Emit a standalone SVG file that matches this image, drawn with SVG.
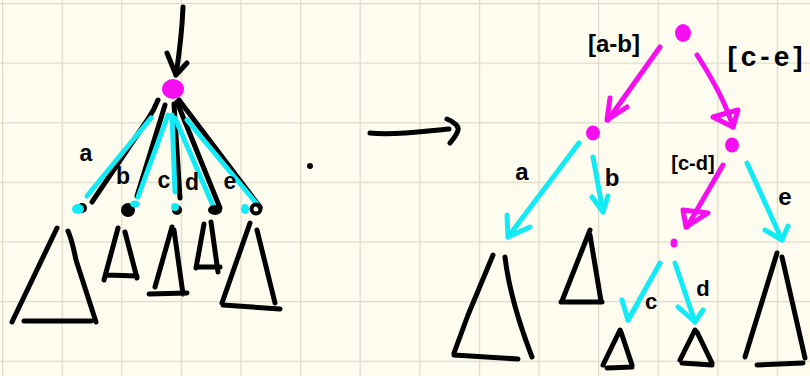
<svg xmlns="http://www.w3.org/2000/svg" width="810" height="376" viewBox="0 0 810 376">
<defs>
<pattern id="grid" x="2" y="3" width="59.6" height="59.6" patternUnits="userSpaceOnUse">
<path d="M0 0 H59.6 M0 0 V59.6" fill="none" stroke="#dddac9" stroke-width="2.5"/>
</pattern>
</defs>
<style>
.k{fill:none;stroke:#000;stroke-width:5;stroke-linecap:round;stroke-linejoin:round}
.c{fill:none;stroke:#12ebf5;stroke-width:5;stroke-linecap:round;stroke-linejoin:round}
.m{fill:none;stroke:#f50ef0;stroke-width:5;stroke-linecap:round;stroke-linejoin:round}
.mf{fill:#f50ef0}
.kf{fill:#000}
.cf{fill:#12ebf5}
.t{font-family:"Liberation Sans",Arial,sans-serif;font-weight:bold;fill:#000}
</style>
<rect width="810" height="376" fill="#fdfcef"/>
<rect width="810" height="376" fill="url(#grid)"/>

<g id="connectors">
<!-- left tree -->
<path class="k" d="M183 7 C182 35 179 55 176 75"/>
<path class="k" d="M167 53 L176 75 L187 63"/>
<path class="k" d="M158 100 Q154 110 148 119 L92 202"/>
<path class="c" d="M151 118 L87 196"/>
<path class="k" d="M165 105 L137 196"/>
<path class="c" d="M168 115 L138 197"/>
<path class="k" d="M174 104 L180 198"/>
<path class="c" d="M172 115 L175 192"/>
<path class="k" d="M177 102 L220 208"/>
<path class="c" d="M175 118 L214 208"/>
<path class="k" d="M179 100 L260 207"/>
<path class="c" d="M187 120 L257 204"/>
<!-- middle arrow -->
<path class="k" d="M370 133 C395 136 425 131 449 129"/>
<path class="k" d="M447 119 C455 122 459 127 458 130 C457 135 453 139 450 143"/>
<!-- right tree -->
<path class="m" d="M660 47 L608 120"/>
<path class="m" d="M610 98 L607 120 L627 107"/>
<path class="m" d="M697 55 C710 75 725 100 733 127"/>
<path class="m" d="M713 117 L738 110 L733 127 Z"/>
<path class="c" d="M579 143 L508 237"/>
<path class="c" d="M507 215 L508 237 L530 227"/>
<path class="c" d="M593 157 L603 212"/>
<path class="c" d="M592 197 L603 212 L608 196"/>
<path class="m" d="M723 165 L687 227"/>
<path class="m" d="M683 210 L708 213 L686 227 Z"/>
<path class="c" d="M747 163 L782 240"/>
<path class="c" d="M765 230 L782 240 L788 226"/>
<path class="c" d="M660 263 L628 320"/>
<path class="c" d="M622 300 L628 320 L637 305"/>
<path class="c" d="M675 263 L695 322"/>
<path class="c" d="M678 307 L695 322 L703 310"/>
</g>

<g id="root-left">
<ellipse class="mf" cx="173" cy="89" rx="11" ry="10"/>
</g>
<g id="child-a">
<circle class="kf" cx="82" cy="208" r="5"/>
<ellipse class="cf" cx="78" cy="209" rx="6" ry="5"/>
<path class="k" d="M57 228 L12 322 M68 231 Q72 240 76 260 L96 322 M24 321 L91 321"/>
<text class="t" x="86" y="161" font-size="23" text-anchor="middle">a</text>
</g>
<g id="child-b">
<circle class="kf" cx="128" cy="210" r="7"/>
<ellipse class="cf" cx="135" cy="204" rx="5" ry="3.5"/>
<path class="k" d="M118 228 L104 280 M125 232 L137 278 M107 275 L137 276"/>
<text class="t" x="123" y="184" font-size="23" text-anchor="middle">b</text>
</g>
<g id="child-c">
<circle class="kf" cx="177" cy="210" r="5"/>
<circle class="cf" cx="175" cy="207" r="4"/>
<path class="k" d="M172 227 L155 287 M174 230 L183 294 M149 294 L187 293"/>
<text class="t" x="164" y="188" font-size="23" text-anchor="middle">c</text>
</g>
<g id="child-d">
<ellipse class="kf" cx="215" cy="210" rx="7" ry="5"/>
<path class="k" d="M204 224 L196 268 M211 222 L218 272 M197 267 L220 267"/>
<text class="t" x="192" y="190" font-size="23" text-anchor="middle">d</text>
</g>
<g id="child-e">
<circle class="k" cx="256" cy="209" r="4.5" style="stroke-width:4"/>
<ellipse class="cf" cx="245" cy="209" rx="4" ry="5"/>
<path class="k" d="M250 223 L222 303 M257 230 L275 303 M223 305 L280 309"/>
<text class="t" x="230" y="189" font-size="23" text-anchor="middle">e</text>
</g>
<circle class="kf" cx="310" cy="166" r="3"/>

<g id="root-right">
<ellipse class="mf" cx="683" cy="33" rx="8" ry="9"/>
<text class="t" x="614" y="52" font-size="24" text-anchor="middle">[a-b]</text>
<text class="t" x="767" y="66" font-size="28" text-anchor="middle" letter-spacing="4">[c-e]</text>
</g>
<g id="node-ab">
<ellipse class="mf" cx="593" cy="133" rx="7" ry="7.5"/>
<text class="t" x="522" y="180" font-size="24" text-anchor="middle">a</text>
<text class="t" x="612" y="186" font-size="24" text-anchor="middle">b</text>
</g>
<g id="node-ce">
<ellipse class="mf" cx="732" cy="145" rx="7" ry="7.5"/>
<text class="t" x="693" y="170" font-size="20" text-anchor="middle">[c-d]</text>
<text class="t" x="785" y="205" font-size="24" text-anchor="middle">e</text>
</g>
<g id="node-cd">
<ellipse class="mf" cx="674" cy="243" rx="3.5" ry="4.5"/>
<text class="t" x="651" y="309" font-size="22" text-anchor="middle">c</text>
<text class="t" x="703" y="296" font-size="22" text-anchor="middle">d</text>
</g>
<g id="sub-a">
<path class="k" d="M493 255 L468 315 L454 353 M505 257 Q510 300 532 357 M454 355 L518 359"/>
</g>
<g id="sub-b">
<path class="k" d="M590 230 L562 301 M590 235 L601 301 M561 302 L602 302"/>
</g>
<g id="sub-c">
<path class="k" d="M620 330 L603 365 M621 332 L632 365 M607 368 L632 367"/>
</g>
<g id="sub-d">
<path class="k" d="M695 330 L680 360 M697 332 L712 363 M682 363 L712 365"/>
</g>
<g id="sub-e">
<path class="k" d="M777 253 L745 357 M782 257 Q792 300 805 358 M757 365 L803 363"/>
</g>
</svg>
